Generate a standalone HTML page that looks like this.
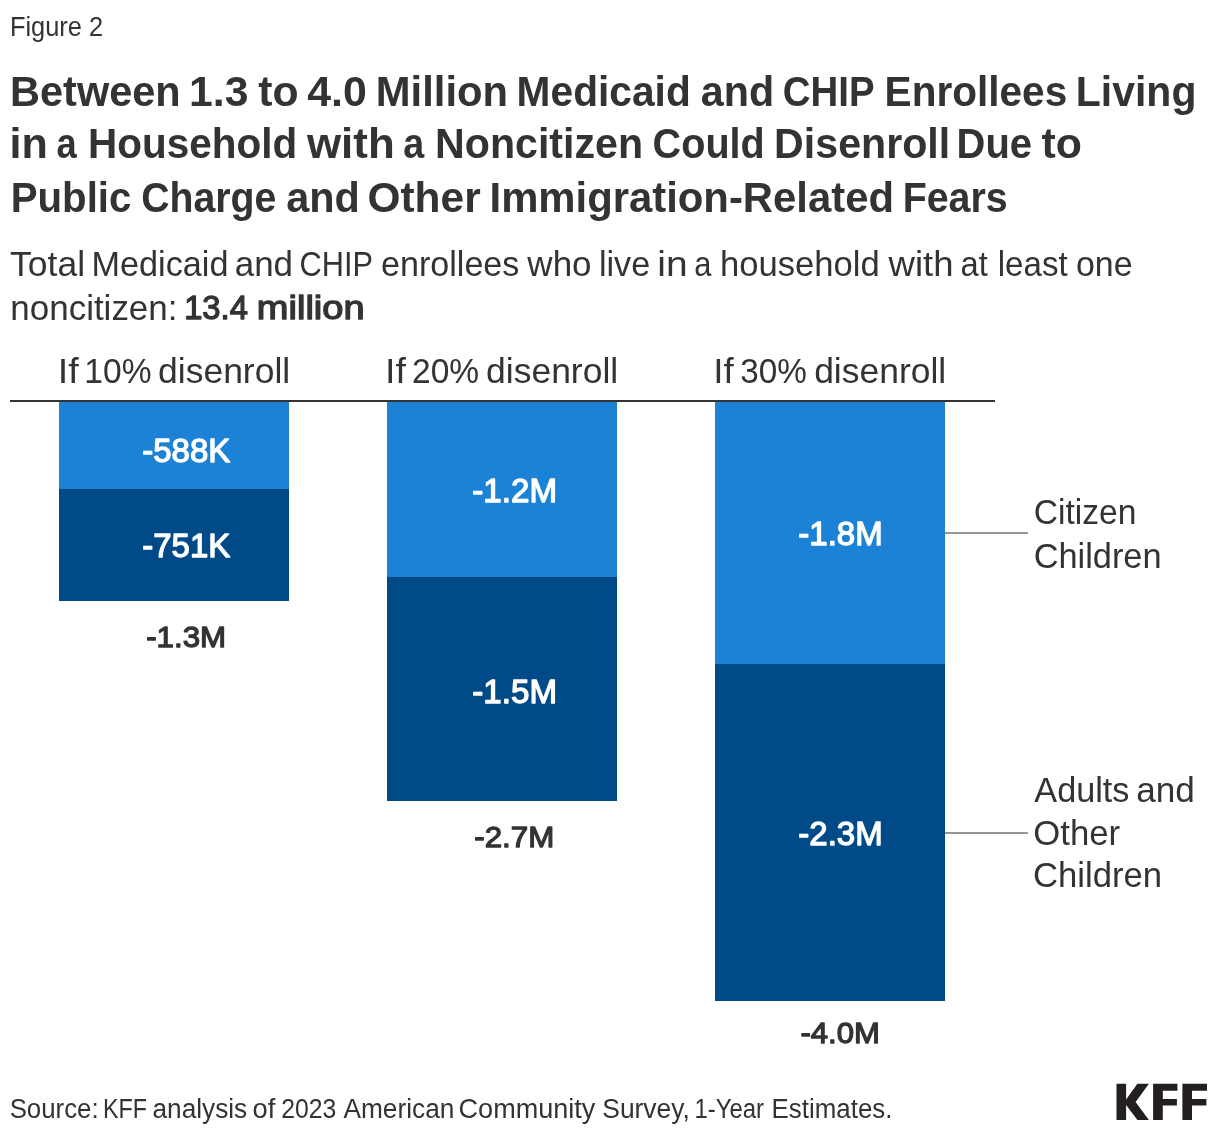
<!DOCTYPE html>
<html><head><meta charset="utf-8"><title>Figure 2</title>
<style>html,body{margin:0;padding:0;background:#ffffff;width:1220px;height:1136px;overflow:hidden}
svg{display:block;will-change:transform;font-family:"Liberation Sans",sans-serif}</style></head>
<body><svg width="1220" height="1136" viewBox="0 0 1220 1136">
<rect width="1220" height="1136" fill="#ffffff"/>
<rect x="10" y="400" width="985" height="2" fill="#333333"/>
<rect x="59" y="402" width="230" height="87" fill="#1c82d6"/>
<rect x="59" y="489" width="230" height="112" fill="#004a87"/>
<rect x="387" y="402" width="230" height="175" fill="#1c82d6"/>
<rect x="387" y="577" width="230" height="224" fill="#004a87"/>
<rect x="715" y="402" width="230" height="262" fill="#1c82d6"/>
<rect x="715" y="664" width="230" height="337" fill="#004a87"/>
<rect x="945" y="532" width="83" height="2" fill="#969696"/>
<rect x="945" y="832" width="83" height="2" fill="#969696"/>
<text x="9.90" y="35.90" font-size="26.74" fill="#333333" textLength="93.15" lengthAdjust="spacingAndGlyphs">Figure 2</text>
<text x="10.05" y="105.90" font-size="42.15" font-weight="bold" fill="#333333" textLength="170.60" lengthAdjust="spacingAndGlyphs">Between</text>
<text x="189.10" y="105.90" font-size="42.15" font-weight="bold" fill="#333333" textLength="59.41" lengthAdjust="spacingAndGlyphs">1.3</text>
<text x="258.17" y="105.90" font-size="42.15" font-weight="bold" fill="#333333" textLength="40.34" lengthAdjust="spacingAndGlyphs">to</text>
<text x="307.25" y="105.90" font-size="42.15" font-weight="bold" fill="#333333" textLength="59.66" lengthAdjust="spacingAndGlyphs">4.0</text>
<text x="375.78" y="105.90" font-size="42.15" font-weight="bold" fill="#333333" textLength="132.27" lengthAdjust="spacingAndGlyphs">Million</text>
<text x="516.60" y="105.90" font-size="42.15" font-weight="bold" fill="#333333" textLength="174.19" lengthAdjust="spacingAndGlyphs">Medicaid</text>
<text x="700.72" y="105.90" font-size="42.15" font-weight="bold" fill="#333333" textLength="73.40" lengthAdjust="spacingAndGlyphs">and</text>
<text x="782.68" y="105.90" font-size="42.15" font-weight="bold" fill="#333333" textLength="91.86" lengthAdjust="spacingAndGlyphs">CHIP</text>
<text x="884.61" y="105.90" font-size="42.15" font-weight="bold" fill="#333333" textLength="182.58" lengthAdjust="spacingAndGlyphs">Enrollees</text>
<text x="1075.84" y="105.90" font-size="42.15" font-weight="bold" fill="#333333" textLength="120.56" lengthAdjust="spacingAndGlyphs">Living</text>
<text x="9.43" y="157.70" font-size="42.15" font-weight="bold" fill="#333333" textLength="38.33" lengthAdjust="spacingAndGlyphs">in</text>
<text x="56.57" y="157.70" font-size="42.15" font-weight="bold" fill="#333333" textLength="20.22" lengthAdjust="spacingAndGlyphs">a</text>
<text x="88.12" y="157.70" font-size="42.15" font-weight="bold" fill="#333333" textLength="209.09" lengthAdjust="spacingAndGlyphs">Household</text>
<text x="306.96" y="157.70" font-size="42.15" font-weight="bold" fill="#333333" textLength="87.81" lengthAdjust="spacingAndGlyphs">with</text>
<text x="403.33" y="157.70" font-size="42.15" font-weight="bold" fill="#333333" textLength="20.95" lengthAdjust="spacingAndGlyphs">a</text>
<text x="435.07" y="157.70" font-size="42.15" font-weight="bold" fill="#333333" textLength="208.06" lengthAdjust="spacingAndGlyphs">Noncitizen</text>
<text x="652.62" y="157.70" font-size="42.15" font-weight="bold" fill="#333333" textLength="112.15" lengthAdjust="spacingAndGlyphs">Could</text>
<text x="774.07" y="157.70" font-size="42.15" font-weight="bold" fill="#333333" textLength="176.17" lengthAdjust="spacingAndGlyphs">Disenroll</text>
<text x="956.56" y="157.70" font-size="42.15" font-weight="bold" fill="#333333" textLength="75.48" lengthAdjust="spacingAndGlyphs">Due</text>
<text x="1041.47" y="157.70" font-size="42.15" font-weight="bold" fill="#333333" textLength="40.45" lengthAdjust="spacingAndGlyphs">to</text>
<text x="10.64" y="212.00" font-size="42.15" font-weight="bold" fill="#333333" textLength="120.75" lengthAdjust="spacingAndGlyphs">Public</text>
<text x="141.14" y="212.00" font-size="42.15" font-weight="bold" fill="#333333" textLength="135.28" lengthAdjust="spacingAndGlyphs">Charge</text>
<text x="286.21" y="212.00" font-size="42.15" font-weight="bold" fill="#333333" textLength="73.66" lengthAdjust="spacingAndGlyphs">and</text>
<text x="367.49" y="212.00" font-size="42.15" font-weight="bold" fill="#333333" textLength="113.16" lengthAdjust="spacingAndGlyphs">Other</text>
<text x="489.52" y="212.00" font-size="42.15" font-weight="bold" fill="#333333" textLength="404.46" lengthAdjust="spacingAndGlyphs">Immigration-Related</text>
<text x="902.70" y="212.00" font-size="42.15" font-weight="bold" fill="#333333" textLength="105.02" lengthAdjust="spacingAndGlyphs">Fears</text>
<text x="10.07" y="275.70" font-size="34.30" fill="#333333" textLength="74.97" lengthAdjust="spacingAndGlyphs">Total</text>
<text x="91.51" y="275.70" font-size="34.30" fill="#333333" textLength="137.01" lengthAdjust="spacingAndGlyphs">Medicaid</text>
<text x="234.71" y="275.70" font-size="34.30" fill="#333333" textLength="58.32" lengthAdjust="spacingAndGlyphs">and</text>
<text x="299.45" y="275.70" font-size="34.30" fill="#333333" textLength="73.56" lengthAdjust="spacingAndGlyphs">CHIP</text>
<text x="381.02" y="275.70" font-size="34.30" fill="#333333" textLength="138.32" lengthAdjust="spacingAndGlyphs">enrollees</text>
<text x="527.39" y="275.70" font-size="34.30" fill="#333333" textLength="64.21" lengthAdjust="spacingAndGlyphs">who</text>
<text x="598.92" y="275.70" font-size="34.30" fill="#333333" textLength="51.29" lengthAdjust="spacingAndGlyphs">live</text>
<text x="657.37" y="275.70" font-size="34.30" fill="#333333" textLength="30.31" lengthAdjust="spacingAndGlyphs">in</text>
<text x="694.14" y="275.70" font-size="34.30" fill="#333333" textLength="17.18" lengthAdjust="spacingAndGlyphs">a</text>
<text x="720.09" y="275.70" font-size="34.30" fill="#333333" textLength="159.73" lengthAdjust="spacingAndGlyphs">household</text>
<text x="888.64" y="275.70" font-size="34.30" fill="#333333" textLength="64.93" lengthAdjust="spacingAndGlyphs">with</text>
<text x="960.56" y="275.70" font-size="34.30" fill="#333333" textLength="27.26" lengthAdjust="spacingAndGlyphs">at</text>
<text x="997.75" y="275.70" font-size="34.30" fill="#333333" textLength="69.92" lengthAdjust="spacingAndGlyphs">least</text>
<text x="1076.04" y="275.70" font-size="34.30" fill="#333333" textLength="56.53" lengthAdjust="spacingAndGlyphs">one</text>
<text x="10.33" y="319.70" font-size="34.30" fill="#333333" textLength="167.13" lengthAdjust="spacingAndGlyphs">noncitizen:</text>
<text x="184.18" y="319.05" font-size="32.41" fill="#333333" stroke="#333333" stroke-width="1.3" stroke-linejoin="round" textLength="63.67" lengthAdjust="spacingAndGlyphs">13.4</text>
<text x="256.88" y="319.05" font-size="32.41" fill="#333333" stroke="#333333" stroke-width="1.3" stroke-linejoin="round" textLength="107.71" lengthAdjust="spacingAndGlyphs">million</text>
<text x="57.78" y="382.90" font-size="34.30" fill="#333333" textLength="20.99" lengthAdjust="spacingAndGlyphs">If</text>
<text x="84.34" y="382.90" font-size="34.30" fill="#333333" textLength="67.21" lengthAdjust="spacingAndGlyphs">10%</text>
<text x="158.07" y="382.90" font-size="34.30" fill="#333333" textLength="132.12" lengthAdjust="spacingAndGlyphs">disenroll</text>
<text x="385.08" y="382.90" font-size="34.30" fill="#333333" textLength="20.99" lengthAdjust="spacingAndGlyphs">If</text>
<text x="412.12" y="382.90" font-size="34.30" fill="#333333" textLength="67.03" lengthAdjust="spacingAndGlyphs">20%</text>
<text x="486.07" y="382.90" font-size="34.30" fill="#333333" textLength="132.12" lengthAdjust="spacingAndGlyphs">disenroll</text>
<text x="713.26" y="382.90" font-size="34.30" fill="#333333" textLength="20.51" lengthAdjust="spacingAndGlyphs">If</text>
<text x="740.34" y="382.90" font-size="34.30" fill="#333333" textLength="66.61" lengthAdjust="spacingAndGlyphs">30%</text>
<text x="814.17" y="382.90" font-size="34.30" fill="#333333" textLength="132.02" lengthAdjust="spacingAndGlyphs">disenroll</text>
<text x="142.30" y="461.55" font-size="32.85" fill="#ffffff" stroke="#ffffff" stroke-width="1.3" stroke-linejoin="round" textLength="87.91" lengthAdjust="spacingAndGlyphs">-588K</text>
<text x="142.30" y="557.25" font-size="32.85" fill="#ffffff" stroke="#ffffff" stroke-width="1.3" stroke-linejoin="round" textLength="87.91" lengthAdjust="spacingAndGlyphs">-751K</text>
<text x="472.29" y="501.55" font-size="32.85" fill="#ffffff" stroke="#ffffff" stroke-width="1.3" stroke-linejoin="round" textLength="84.74" lengthAdjust="spacingAndGlyphs">-1.2M</text>
<text x="472.29" y="703.25" font-size="32.85" fill="#ffffff" stroke="#ffffff" stroke-width="1.3" stroke-linejoin="round" textLength="84.74" lengthAdjust="spacingAndGlyphs">-1.5M</text>
<text x="798.29" y="545.25" font-size="32.85" fill="#ffffff" stroke="#ffffff" stroke-width="1.3" stroke-linejoin="round" textLength="84.42" lengthAdjust="spacingAndGlyphs">-1.8M</text>
<text x="798.29" y="845.25" font-size="32.85" fill="#ffffff" stroke="#ffffff" stroke-width="1.3" stroke-linejoin="round" textLength="84.42" lengthAdjust="spacingAndGlyphs">-2.3M</text>
<text x="146.17" y="647.35" font-size="30.09" fill="#333333" stroke="#333333" stroke-width="1.3" stroke-linejoin="round" textLength="80.00" lengthAdjust="spacingAndGlyphs">-1.3M</text>
<text x="474.27" y="847.25" font-size="30.09" fill="#333333" stroke="#333333" stroke-width="1.3" stroke-linejoin="round" textLength="80.00" lengthAdjust="spacingAndGlyphs">-2.7M</text>
<text x="800.48" y="1043.25" font-size="30.09" fill="#333333" stroke="#333333" stroke-width="1.3" stroke-linejoin="round" textLength="79.38" lengthAdjust="spacingAndGlyphs">-4.0M</text>
<text x="1033.67" y="523.90" font-size="34.88" fill="#333333" textLength="102.68" lengthAdjust="spacingAndGlyphs">Citizen</text>
<text x="1033.63" y="568.00" font-size="34.88" fill="#333333" textLength="127.91" lengthAdjust="spacingAndGlyphs">Children</text>
<text x="1034.32" y="802.00" font-size="34.88" fill="#333333" textLength="95.18" lengthAdjust="spacingAndGlyphs">Adults</text>
<text x="1136.25" y="802.00" font-size="34.88" fill="#333333" textLength="58.62" lengthAdjust="spacingAndGlyphs">and</text>
<text x="1033.31" y="845.40" font-size="34.88" fill="#333333" textLength="86.90" lengthAdjust="spacingAndGlyphs">Other</text>
<text x="1033.01" y="887.40" font-size="34.88" fill="#333333" textLength="129.15" lengthAdjust="spacingAndGlyphs">Children</text>
<text x="9.66" y="1117.70" font-size="26.74" fill="#333333" textLength="88.93" lengthAdjust="spacingAndGlyphs">Source:</text>
<text x="103.07" y="1117.70" font-size="26.74" fill="#333333" textLength="44.04" lengthAdjust="spacingAndGlyphs">KFF</text>
<text x="152.55" y="1117.70" font-size="26.74" fill="#333333" textLength="94.67" lengthAdjust="spacingAndGlyphs">analysis</text>
<text x="252.55" y="1117.70" font-size="26.74" fill="#333333" textLength="22.75" lengthAdjust="spacingAndGlyphs">of</text>
<text x="281.24" y="1117.70" font-size="26.74" fill="#333333" textLength="55.14" lengthAdjust="spacingAndGlyphs">2023</text>
<text x="343.49" y="1117.70" font-size="26.74" fill="#333333" textLength="110.90" lengthAdjust="spacingAndGlyphs">American</text>
<text x="458.57" y="1117.70" font-size="26.74" fill="#333333" textLength="136.75" lengthAdjust="spacingAndGlyphs">Community</text>
<text x="602.27" y="1117.70" font-size="26.74" fill="#333333" textLength="87.57" lengthAdjust="spacingAndGlyphs">Survey,</text>
<text x="694.42" y="1117.70" font-size="26.74" fill="#333333" textLength="69.64" lengthAdjust="spacingAndGlyphs">1-Year</text>
<text x="771.61" y="1117.70" font-size="26.74" fill="#333333" textLength="120.79" lengthAdjust="spacingAndGlyphs">Estimates.</text>
<path fill="#231f20" d="M1116.5 1083.8H1126.1V1099.5L1137.4 1083.8H1148.9L1135.6 1102L1148.9 1120H1137.4L1126.1 1104.9V1120H1116.5ZM1153.1 1083.8H1177.4V1090.7H1162.8V1099H1176.9V1105.4H1162.8V1120H1153.1ZM1182.4 1083.8H1207V1090.7H1192V1099H1206.4V1105.4H1192V1120H1182.4Z"/>
</svg></body></html>
